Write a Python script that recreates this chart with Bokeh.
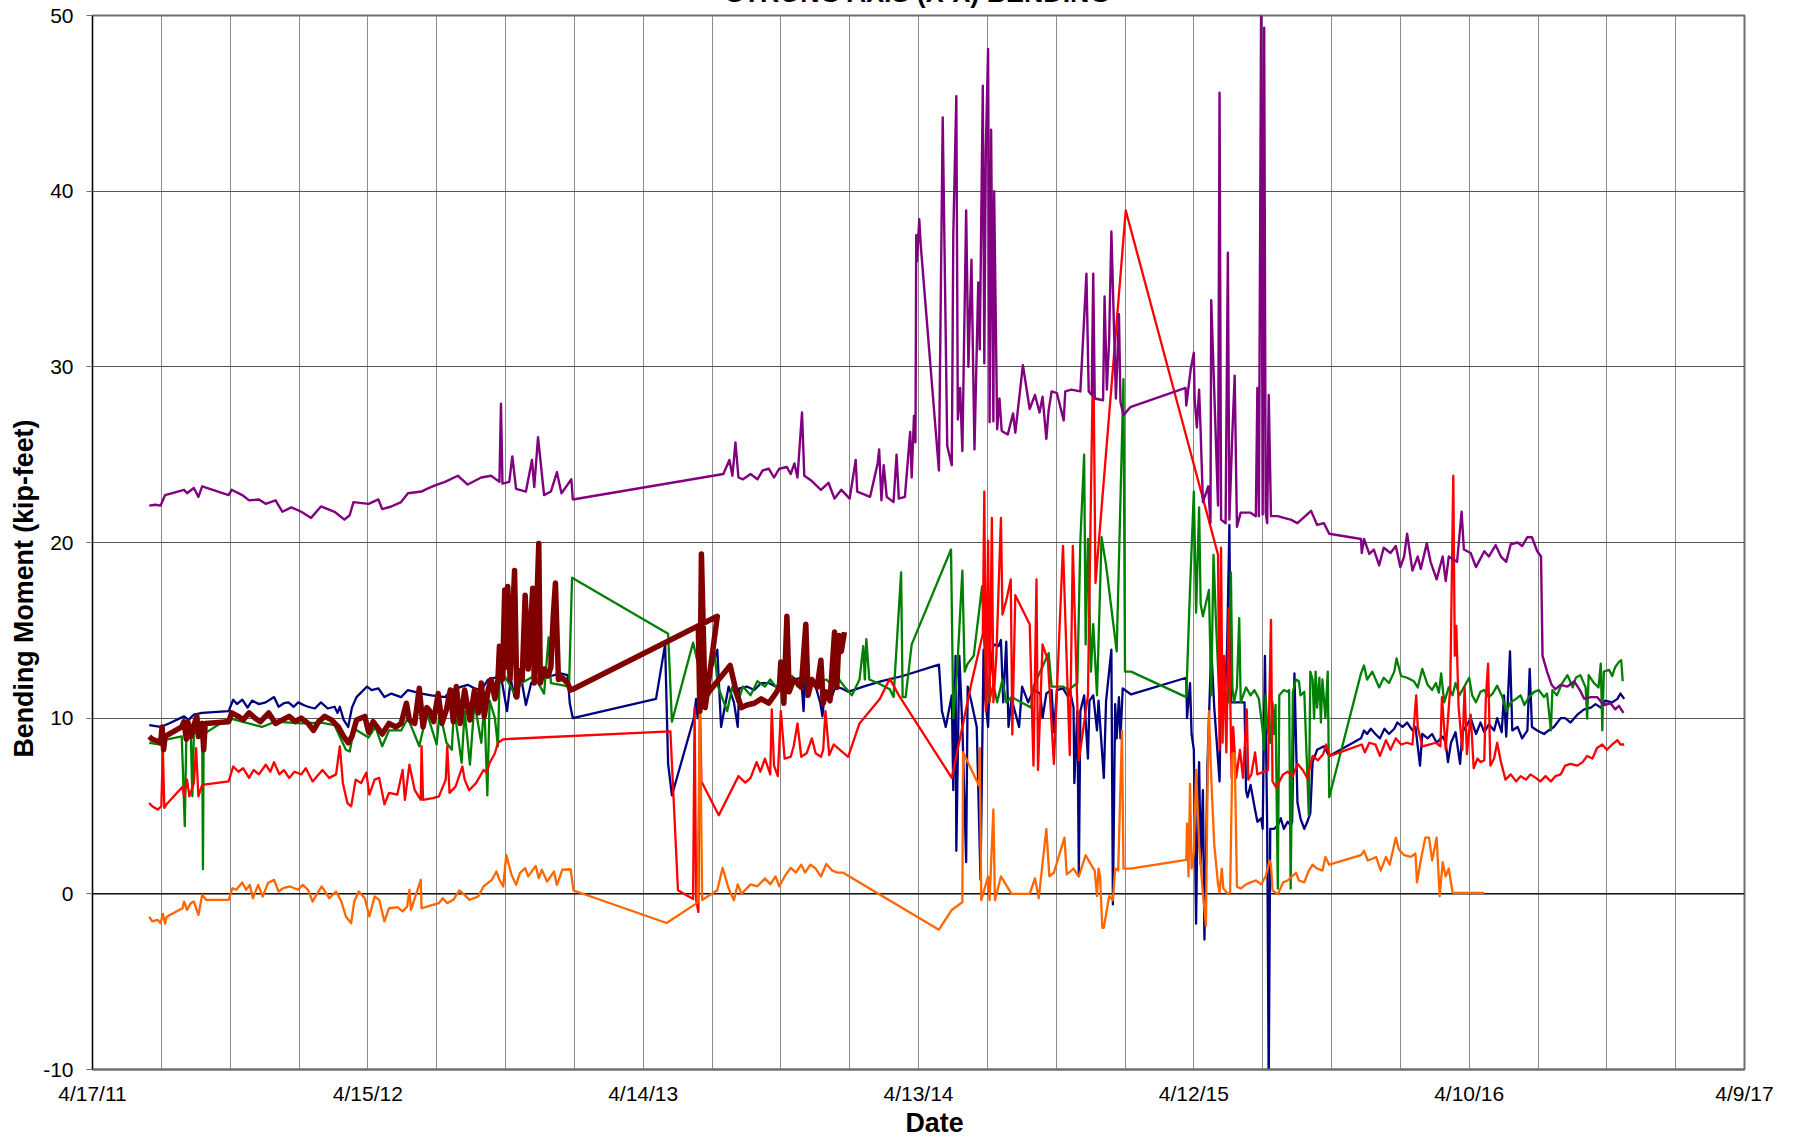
import pandas as pd
from bokeh.plotting import figure
from bokeh.models import Range1d, FixedTicker, CustomJSTickFormatter, Span, Title
from bokeh.embed import file_html
from bokeh.resources import INLINE

TITLE = "STRONG AXIS (X-X) BENDING"
X_LABEL = "Date"
Y_LABEL = "Bending Moment (kip-feet)"
x_start, x_end = "2011-04-17", "2017-04-09"
y_start, y_end = -10, 50
y_ticks = [-10, 0, 10, 20, 30, 40, 50]
x_tick_dates = ["2011-04-17", "2012-04-15", "2013-04-14", "2014-04-13", "2015-04-12", "2016-04-10", "2017-04-09"]
x_tick_labels = ["4/17/11", "4/15/12", "4/14/13", "4/13/14", "4/12/15", "4/10/16", "4/9/17"]
grid_step_days = 91

# ---------------- series data ----------------
purple_dates = [
 "2011-07-01","2011-07-09","2011-07-16","2011-07-22","2011-08-16","2011-08-20","2011-08-29","2011-09-04","2011-09-09","2011-10-14",
 "2011-10-18","2011-11-01","2011-11-10","2011-11-23","2011-12-02","2011-12-15","2011-12-24","2012-01-05","2012-01-18","2012-01-31",
 "2012-02-13","2012-03-02","2012-03-15","2012-03-22","2012-03-27","2012-04-16","2012-04-29","2012-05-04","2012-05-16","2012-05-29",
 "2012-06-07","2012-06-25","2012-07-02","2012-07-13","2012-07-26","2012-08-12","2012-08-25","2012-09-12","2012-09-25","2012-10-06",
 "2012-10-08","2012-10-10","2012-10-19","2012-10-23","2012-10-28","2012-11-10","2012-11-18","2012-11-21","2012-11-26","2012-12-04",
 "2012-12-13","2012-12-21","2012-12-27","2013-01-09","2013-01-11",
 "2013-07-29","2013-08-06","2013-08-10","2013-08-14","2013-08-18","2013-08-24","2013-09-03","2013-09-12","2013-09-19","2013-09-27",
 "2013-10-04","2013-10-11","2013-10-21","2013-10-26","2013-10-31","2013-11-04","2013-11-10","2013-11-13","2013-11-23","2013-12-05",
 "2013-12-15","2013-12-23","2014-01-01","2014-01-12","2014-01-20","2014-01-22","2014-02-08","2014-02-18","2014-02-20","2014-02-23",
 "2014-02-26","2014-03-02","2014-03-11","2014-03-15","2014-03-18","2014-03-26","2014-04-02","2014-04-04","2014-04-07","2014-04-09",
 "2014-04-10","2014-04-11","2014-04-14","2014-04-16","2014-05-10","2014-05-15","2014-05-21","2014-05-27","2014-05-29","2014-06-02",
 "2014-06-04","2014-06-07","2014-06-10","2014-06-15","2014-06-18","2014-06-22","2014-06-26","2014-07-01","2014-07-03","2014-07-07",
 "2014-07-09","2014-07-11","2014-07-14","2014-07-16","2014-07-18","2014-07-21","2014-07-22","2014-07-26","2014-07-29","2014-08-01",
 "2014-08-09","2014-08-16","2014-08-19","2014-08-29","2014-09-07","2014-09-14","2014-09-20","2014-09-24","2014-09-29","2014-10-02",
 "2014-10-06","2014-10-13","2014-10-22","2014-10-24","2014-11-01","2014-11-13","2014-11-19","2014-11-21","2014-11-24","2014-11-28",
 "2014-11-30","2014-12-02","2014-12-13","2014-12-15","2014-12-18","2014-12-21","2014-12-24","2014-12-30","2015-01-03","2015-01-05",
 "2015-01-09","2015-01-18",
 "2015-04-01","2015-04-02","2015-04-08","2015-04-12","2015-04-13","2015-04-16","2015-04-19","2015-04-21","2015-04-24","2015-05-01",
 "2015-05-04","2015-05-05","2015-05-14","2015-05-16","2015-05-18","2015-05-24","2015-05-27","2015-05-29","2015-06-02","2015-06-05",
 "2015-06-08","2015-06-13","2015-06-26","2015-07-03","2015-07-05","2015-07-07","2015-07-10","2015-07-12","2015-07-14","2015-07-16",
 "2015-07-18","2015-07-20","2015-07-23","2015-08-01","2015-08-09","2015-08-18","2015-08-27","2015-09-14","2015-09-22","2015-10-01",
 "2015-10-08","2015-11-19","2015-11-20","2015-11-23","2015-11-30","2015-12-06","2015-12-13","2015-12-19","2015-12-28","2016-01-04",
 "2016-01-10","2016-01-15","2016-01-19","2016-01-26","2016-02-02","2016-02-06","2016-02-14","2016-02-19","2016-02-27","2016-03-06",
 "2016-03-10","2016-03-14","2016-03-25","2016-03-31","2016-04-03","2016-04-12","2016-04-19","2016-04-30","2016-05-06","2016-05-15",
 "2016-05-22","2016-05-29","2016-06-04","2016-06-13","2016-06-19","2016-06-26","2016-07-02","2016-07-09","2016-07-14","2016-07-16",
 "2016-07-22","2016-07-28","2016-08-02","2016-08-09","2016-08-18","2016-08-27","2016-09-04","2016-09-09","2016-09-18","2016-09-26",
 "2016-10-05","2016-10-14","2016-10-20","2016-10-25","2016-10-31"]
purple_vals = [
 22.1,22.15,22.1,22.7,23.0,22.8,23.1,22.6,23.2,22.7,
 23.0,22.7,22.4,22.45,22.2,22.4,21.75,22.0,21.75,21.4,
 22.05,21.75,21.3,21.55,22.3,22.2,22.45,21.9,22.05,22.3,
 22.8,22.9,23.05,23.25,23.45,23.8,23.3,23.7,23.8,23.45,
 27.9,23.35,23.45,24.9,23.05,22.9,24.7,23.15,26.0,22.7,
 22.9,24.0,22.8,23.6,22.45,
 23.9,24.7,23.8,25.7,23.7,23.6,23.9,23.6,24.1,24.2,
 23.7,24.2,24.3,23.9,24.5,23.7,27.4,23.8,23.5,23.0,
 23.4,22.5,23.0,22.5,24.7,22.9,22.6,24.5,25.3,22.4,
 24.4,22.6,22.3,25.0,22.5,22.6,26.3,23.7,27.2,25.7,
 37.5,36.0,38.4,36.9,24.1,44.2,25.5,24.4,37.5,45.4,
 27.0,28.8,25.2,38.9,30.0,36.1,25.3,34.8,31.0,46.0,
 30.2,42.3,48.1,26.85,43.5,26.9,40.0,26.45,28.2,26.35,
 26.15,27.35,26.25,30.1,27.6,28.4,27.4,28.3,25.9,27.5,
 28.6,28.5,26.95,28.6,28.7,28.6,33.6,35.3,28.6,28.4,
 35.3,28.2,28.1,34.0,28.7,31.5,37.7,28.2,33.0,28.0,
 27.25,27.7,
 28.8,27.8,29.9,30.8,28.2,26.55,28.7,26.3,22.3,23.2,
 21.1,33.8,22.1,45.6,21.3,21.1,36.5,21.3,26.3,29.5,
 20.9,21.7,21.7,21.5,28.8,21.5,51.0,21.6,49.3,21.7,
 21.1,28.4,21.5,21.5,21.4,21.3,21.1,21.8,21.0,21.1,
 20.5,20.2,19.4,20.2,19.35,19.6,18.7,19.7,19.4,19.8,
 18.6,19.2,20.5,18.4,19.2,18.5,19.95,18.9,17.9,19.2,
 17.8,19.2,18.9,21.75,19.6,19.4,18.6,19.5,19.2,19.85,
 19.2,18.9,19.9,20.0,19.8,20.3,20.3,19.5,19.2,13.55,
 12.65,11.9,11.65,11.9,11.8,12.1,11.55,11.1,11.2,11.2,
 10.75,10.85,10.5,10.7,10.3]

orange_dates = [
 "2011-07-01","2011-07-05","2011-07-12","2011-07-16","2011-07-19","2011-07-22","2011-07-24","2011-08-14","2011-08-16","2011-08-20",
 "2011-08-25","2011-08-29","2011-09-04","2011-09-09","2011-09-14","2011-10-14","2011-10-19","2011-10-24","2011-11-01","2011-11-06",
 "2011-11-11","2011-11-15","2011-11-22","2011-11-28","2011-12-05","2011-12-13","2011-12-19","2011-12-25","2012-01-03","2012-01-14",
 "2012-01-20","2012-01-27","2012-02-02","2012-02-07","2012-02-14","2012-02-24","2012-03-04","2012-03-11","2012-03-17","2012-03-24",
 "2012-03-28","2012-04-03","2012-04-11","2012-04-17","2012-04-24","2012-04-30","2012-05-07","2012-05-13","2012-05-24","2012-05-31",
 "2012-06-06","2012-06-09","2012-06-11","2012-06-24","2012-06-25","2012-07-10","2012-07-18","2012-07-23","2012-07-29","2012-08-06",
 "2012-08-14","2012-08-21","2012-08-27","2012-09-08","2012-09-15","2012-09-26","2012-10-02","2012-10-06","2012-10-11","2012-10-15",
 "2012-10-22","2012-10-28","2012-11-02","2012-11-09","2012-11-13","2012-11-23","2012-11-27","2012-12-01","2012-12-08","2012-12-17",
 "2012-12-21","2012-12-28","2013-01-08","2013-01-12",
 "2013-05-15","2013-06-25","2013-06-28","2013-07-01","2013-07-21","2013-07-28","2013-08-05","2013-08-12","2013-08-17","2013-08-22",
 "2013-09-03","2013-09-12","2013-09-22","2013-09-29","2013-10-06","2013-10-11","2013-10-18","2013-10-26","2013-11-02","2013-11-09",
 "2013-11-14","2013-11-21","2013-11-28","2013-12-05","2013-12-12","2013-12-20","2013-12-27","2014-01-03","2014-01-10","2014-05-10",
 "2014-05-27","2014-06-10","2014-06-11","2014-07-02","2014-07-03","2014-07-05","2014-07-14","2014-07-16","2014-07-21","2014-07-23",
 "2014-07-31","2014-08-14","2014-09-07","2014-09-14","2014-09-19","2014-09-29","2014-10-03","2014-10-09","2014-10-23","2014-10-26",
 "2014-11-04","2014-11-09","2014-11-11","2014-11-20","2014-11-27","2014-12-02","2014-12-05","2014-12-07","2014-12-09","2014-12-12",
 "2014-12-14","2014-12-21","2014-12-26","2014-12-29","2015-01-02","2015-01-07","2015-01-09","2015-01-18",
 "2015-04-02","2015-04-03","2015-04-05","2015-04-07","2015-04-09","2015-04-12","2015-04-15","2015-04-19","2015-04-23","2015-04-28",
 "2015-04-30","2015-05-02","2015-05-05","2015-05-09","2015-05-14","2015-05-16","2015-05-19","2015-05-21","2015-05-27","2015-05-30",
 "2015-06-02","2015-06-05","2015-06-08","2015-06-13","2015-06-20","2015-06-26","2015-07-03","2015-07-10","2015-07-16","2015-07-21",
 "2015-07-23","2015-07-25","2015-08-01","2015-08-08","2015-08-14","2015-08-25","2015-08-29","2015-09-05","2015-09-11","2015-09-16",
 "2015-09-22","2015-09-29","2015-10-03","2015-10-08","2015-11-19","2015-11-23","2015-11-28","2015-12-04","2015-12-09","2015-12-15",
 "2015-12-22","2015-12-27","2016-01-04","2016-01-08","2016-01-15","2016-01-24","2016-01-30","2016-02-01","2016-02-06","2016-02-12",
 "2016-02-17","2016-02-21","2016-02-27","2016-03-02","2016-03-06","2016-03-10","2016-03-14","2016-03-19","2016-03-20","2016-04-30"]
orange_vals = [
 -1.3,-1.57,-1.48,-1.67,-1.14,-1.7,-1.3,-0.82,-0.44,-0.91,
 -0.53,-0.44,-1.2,-0.06,-0.34,-0.34,0.32,0.23,0.65,0.23,
 0.51,-0.25,0.51,-0.15,0.61,0.8,0.13,0.32,0.42,0.23,
 0.51,0.23,-0.44,-0.06,0.42,-0.25,0.13,-0.44,-1.29,-1.67,
 -0.44,0.13,-0.25,-1.29,-0.15,-0.34,-1.57,-0.82,-0.76,-1.0,
 -0.72,0.23,-0.91,0.8,-0.82,-0.63,-0.53,-0.25,-0.53,-0.34,
 0.19,-0.06,-0.34,-0.15,0.42,0.8,1.27,0.8,0.42,2.22,
 1.08,0.51,1.18,1.46,0.99,1.59,0.89,1.37,0.7,1.27,
 0.51,1.37,1.4,0.19,
 -1.66,-0.5,10.9,-0.35,0.2,1.48,0.3,-0.36,0.54,0.0,
 0.54,0.43,0.88,0.54,0.99,0.43,0.99,1.48,1.21,1.66,
 1.21,1.66,1.44,0.99,1.7,1.32,1.21,1.21,1.03,-2.04,
 -0.92,-0.47,8.06,6.15,8.3,-0.36,0.99,-0.36,4.8,-0.36,
 0.99,0.0,0.0,0.88,-0.25,3.7,1.0,1.2,3.2,1.1,
 1.44,1.1,1.0,2.2,1.66,1.32,-0.13,1.44,0.99,-1.93,
 -1.93,-0.13,-0.36,1.44,1.32,9.3,1.44,1.44,
 1.93,4.0,0.99,6.26,1.44,2.3,7.05,2.8,0.54,-1.82,
 5.9,10.4,6.6,2.8,0.54,0.09,1.44,0.3,0.0,0.1,
 8.0,8.0,0.4,0.3,0.54,0.65,0.76,0.54,0.99,1.9,
 1.66,0.2,-0.02,0.65,0.76,1.2,0.76,0.65,1.32,1.66,
 1.44,1.32,2.1,1.66,2.2,2.45,1.9,2.0,2.1,1.32,
 2.1,1.66,3.2,2.54,2.2,2.1,2.3,0.65,1.9,3.2,
 3.2,1.9,3.2,-0.13,1.8,0.99,1.44,0.1,0.05,0.05]

red_dates = [
 "2011-07-01","2011-07-05","2011-07-12","2011-07-17","2011-07-19","2011-07-21","2011-07-24","2011-08-14","2011-08-16","2011-08-20",
 "2011-08-23","2011-08-29","2011-09-01","2011-09-04","2011-09-09","2011-10-14","2011-10-20","2011-10-27","2011-11-02","2011-11-10",
 "2011-11-16","2011-11-23","2011-12-02","2011-12-08","2011-12-13","2011-12-20","2011-12-26","2012-01-02","2012-01-09","2012-01-18",
 "2012-01-24","2012-02-02","2012-02-15","2012-02-24","2012-03-04","2012-03-09","2012-03-13","2012-03-19","2012-03-24","2012-03-30",
 "2012-04-06","2012-04-13","2012-04-17","2012-04-24","2012-04-30","2012-05-07","2012-05-13","2012-05-24","2012-05-31","2012-06-03",
 "2012-06-09","2012-06-16","2012-06-24","2012-06-25","2012-06-27","2012-07-10","2012-07-18","2012-07-27","2012-07-29","2012-08-01",
 "2012-08-09","2012-08-18","2012-08-21","2012-08-27","2012-09-05","2012-09-15","2012-09-19","2012-09-23","2012-09-30","2012-10-04",
 "2012-10-11",
 "2013-05-20","2013-05-30","2013-06-19","2013-06-21","2013-06-23","2013-06-26","2013-06-28","2013-06-30","2013-07-23","2013-08-18",
 "2013-08-27","2013-09-03","2013-09-11","2013-09-16","2013-09-22","2013-09-29","2013-10-01","2013-10-04","2013-10-09","2013-10-13",
 "2013-10-18","2013-10-26","2013-10-30","2013-11-04","2013-11-09","2013-11-16","2013-11-23","2013-11-28","2013-12-05","2013-12-08",
 "2013-12-11","2013-12-16","2013-12-22","2014-01-10","2014-01-25","2014-02-21","2014-03-06","2014-03-18","2014-05-27","2014-06-22",
 "2014-07-07","2014-07-09","2014-07-11","2014-07-14","2014-07-16","2014-07-19","2014-07-21","2014-07-25","2014-07-27","2014-07-31",
 "2014-08-02","2014-08-07","2014-08-13","2014-08-15","2014-08-19","2014-09-07","2014-09-12","2014-09-16","2014-09-18","2014-09-24",
 "2014-10-01","2014-10-09","2014-10-21","2014-10-30","2014-11-03","2014-11-11","2014-11-23","2014-11-30","2014-12-03","2015-01-12",
 "2015-05-14","2015-05-16","2015-05-18","2015-05-20","2015-05-22","2015-05-25","2015-05-28","2015-06-01","2015-06-03","2015-06-07",
 "2015-06-12","2015-06-16","2015-06-21","2015-06-23","2015-06-27","2015-07-02","2015-07-05","2015-07-13","2015-07-19","2015-07-23",
 "2015-07-25","2015-07-30","2015-08-08","2015-08-14","2015-08-21","2015-08-27","2015-09-03","2015-09-09","2015-09-16","2015-09-23",
 "2015-09-30","2015-10-04","2015-10-09","2015-11-20","2015-11-24","2015-11-30","2015-12-08","2015-12-14","2015-12-22","2015-12-28",
 "2016-01-04","2016-01-11","2016-01-19","2016-01-26","2016-01-31","2016-02-02","2016-02-08","2016-02-17","2016-02-26","2016-03-03",
 "2016-03-05","2016-03-10","2016-03-16","2016-03-20","2016-03-22","2016-03-24","2016-03-27","2016-04-01","2016-04-04","2016-04-07",
 "2016-04-12","2016-04-16","2016-04-21","2016-04-25","2016-04-30","2016-05-02","2016-05-05","2016-05-08","2016-05-13","2016-05-17",
 "2016-05-22","2016-05-28","2016-06-04","2016-06-11","2016-06-17","2016-06-24","2016-06-30","2016-07-07","2016-07-13","2016-07-20",
 "2016-07-27","2016-08-02","2016-08-09","2016-08-15","2016-08-22","2016-08-31","2016-09-07","2016-09-13","2016-09-20","2016-09-26",
 "2016-10-03","2016-10-09","2016-10-16","2016-10-23","2016-10-27","2016-11-01"]
red_vals = [
 5.17,4.98,4.8,4.98,8.2,4.9,5.1,6.1,5.55,6.5,
 5.55,6.3,8.3,5.55,6.2,6.4,7.25,6.95,7.15,6.6,
 7.05,6.8,7.35,6.95,7.5,6.8,7.05,6.6,6.95,6.8,
 7.15,6.4,7.05,6.6,6.8,8.4,6.3,5.17,4.98,6.5,
 6.3,6.9,5.65,6.5,6.6,5.1,5.75,5.65,7.05,5.35,
 7.35,5.9,5.35,8.4,5.35,5.45,5.55,6.5,8.4,5.75,
 6.1,7.25,6.5,5.9,6.3,7.05,6.9,7.45,8.0,8.6,
 8.8,
 9.25,0.2,-0.3,10.6,-0.35,-1.03,11.1,6.4,4.47,6.7,
 6.33,6.6,7.5,6.95,7.7,6.8,10.5,7.3,6.7,10.4,
 7.7,7.8,8.4,9.7,7.8,8.0,8.85,8.0,7.8,8.2,
 10.4,7.9,8.5,7.8,9.7,11.1,12.25,11.3,6.6,12.0,
 14.8,22.9,10.4,20.1,10.9,21.4,10.9,13.6,16.25,21.4,
 15.9,16.7,17.9,9.07,17.0,15.35,7.3,17.9,7.05,14.2,
 13.3,7.4,19.8,7.9,19.8,7.6,11.3,31.3,17.7,38.9,
 19.3,8.2,19.7,8.6,13.55,8.05,16.25,6.6,9.5,6.6,
 8.2,6.6,10.5,6.5,6.8,8.05,6.8,6.95,7.05,15.6,
 6.4,6.05,6.8,6.95,6.7,7.4,7.05,6.6,7.85,7.6,
 7.95,8.5,7.85,8.5,8.05,8.6,8.5,7.85,8.75,8.2,
 8.85,8.5,8.6,8.5,11.3,9.5,8.4,8.5,8.6,8.4,
 11.2,8.2,11.75,23.8,13.55,15.25,10.65,8.2,11.75,7.95,
 10.2,7.15,7.7,7.5,7.6,11.1,13.1,7.3,7.7,8.6,
 7.5,6.5,6.8,6.4,6.7,6.5,6.8,6.6,6.4,6.7,
 6.4,6.7,6.8,7.3,7.4,7.3,7.5,7.85,7.7,8.3,
 8.5,8.2,8.5,8.75,8.5,8.5]

green_dates = [
 "2011-07-01","2011-07-16","2011-07-22","2011-08-13","2011-08-17","2011-08-19","2011-08-25","2011-08-27","2011-08-29","2011-08-31",
 "2011-09-09","2011-09-10","2011-09-11","2011-09-13","2011-10-14","2011-10-23","2011-11-27","2011-12-15","2012-01-18","2012-02-13",
 "2012-03-02","2012-03-17","2012-03-22","2012-03-28","2012-04-16","2012-04-25","2012-05-04","2012-05-13","2012-05-29","2012-06-07",
 "2012-06-22","2012-07-02","2012-07-15","2012-07-19","2012-07-28","2012-08-04","2012-08-07","2012-08-17","2012-08-21","2012-08-28",
 "2012-09-03","2012-09-12","2012-09-16","2012-09-20","2012-09-23","2012-09-30","2012-10-04","2012-10-06","2012-10-13","2012-10-26",
 "2012-11-04","2012-11-21","2012-12-04","2012-12-10","2012-12-13","2012-12-26","2013-01-06","2013-01-10",
 "2013-05-17","2013-05-22","2013-06-19","2013-07-05","2013-07-17","2013-07-22","2013-08-03","2013-08-10","2013-08-17","2013-08-24",
 "2013-09-03","2013-09-12","2013-09-22","2013-09-29","2013-10-09","2013-10-16","2013-10-28","2013-11-04","2013-11-18","2013-11-28",
 "2013-12-12","2013-12-22","2013-12-27","2013-12-29","2014-01-05","2014-01-15","2014-01-25","2014-01-30","2014-02-01","2014-02-03",
 "2014-02-07","2014-02-18","2014-03-06","2014-03-11","2014-03-21","2014-03-23","2014-03-27","2014-04-04","2014-05-26","2014-05-29",
 "2014-06-03","2014-06-10","2014-06-13","2014-06-17","2014-06-25","2014-07-06","2014-07-09","2014-07-15","2014-07-21","2014-07-26",
 "2014-08-02","2014-08-07","2014-08-14","2014-09-09","2014-09-12","2014-10-02","2014-10-06","2014-10-21","2014-10-28","2014-11-09",
 "2014-11-13","2014-11-18","2014-11-20","2014-11-23","2014-11-27","2014-11-30","2014-12-05","2014-12-11","2014-12-17","2014-12-31",
 "2015-01-09","2015-01-11","2015-01-19",
 "2015-04-02","2015-04-07","2015-04-12","2015-04-15","2015-04-19","2015-04-21","2015-04-24","2015-05-02","2015-05-05","2015-05-08",
 "2015-05-11","2015-05-16","2015-05-18","2015-05-22","2015-05-27","2015-05-31","2015-06-02","2015-06-04","2015-06-08","2015-06-11",
 "2015-06-13","2015-06-20","2015-06-26","2015-07-01","2015-07-07","2015-07-12","2015-07-14","2015-07-16","2015-07-18","2015-07-22",
 "2015-07-25","2015-07-27","2015-07-29","2015-08-01","2015-08-03","2015-08-09","2015-08-14","2015-08-16","2015-08-18","2015-08-21",
 "2015-08-25","2015-08-29","2015-08-31","2015-09-05","2015-09-11","2015-09-13","2015-09-16","2015-09-18","2015-09-20","2015-09-22",
 "2015-09-25","2015-09-27","2015-09-29","2015-10-01","2015-10-03","2015-10-06","2015-10-08","2015-11-19","2015-11-23","2015-11-27",
 "2015-12-04","2015-12-13","2015-12-19","2015-12-26","2016-01-02","2016-01-05","2016-01-11","2016-01-19","2016-01-28","2016-02-02",
 "2016-02-08","2016-02-15","2016-02-21","2016-02-26","2016-03-01","2016-03-04","2016-03-08","2016-03-14","2016-03-19","2016-03-23",
 "2016-03-28","2016-04-03","2016-04-10","2016-04-14","2016-04-19","2016-04-25","2016-04-30","2016-05-06","2016-05-11","2016-05-17",
 "2016-05-24","2016-05-29","2016-06-04","2016-06-11","2016-06-17","2016-06-22","2016-06-28","2016-07-05","2016-07-11","2016-07-18",
 "2016-07-22","2016-07-27","2016-07-29","2016-08-04","2016-08-11","2016-08-18","2016-08-25","2016-08-29","2016-09-04","2016-09-11",
 "2016-09-13","2016-09-15","2016-09-22","2016-09-28","2016-10-01","2016-10-03","2016-10-05","2016-10-12","2016-10-16","2016-10-20",
 "2016-10-25","2016-10-28","2016-10-30"]
green_vals = [
 8.6,8.5,8.77,8.96,3.85,8.9,9.0,5.55,9.1,9.15,
 9.2,1.4,9.2,9.15,10.0,9.9,9.5,9.8,9.7,9.75,
 9.6,8.2,8.1,9.4,8.9,9.5,8.4,9.3,9.3,10.0,
 8.4,10.3,8.5,10.4,8.6,8.2,10.6,7.45,10.4,7.35,
 10.9,8.6,10.8,5.6,11.0,10.0,8.4,12.0,12.4,11.4,
 12.0,12.4,11.4,14.6,12.0,11.9,11.8,18.0,
 14.8,9.8,14.3,11.3,13.8,11.8,10.4,11.8,10.9,11.8,
 11.3,12.1,11.8,12.2,11.65,12.2,12.4,11.8,12.2,12.0,
 12.2,11.8,13.1,12.2,11.8,11.3,12.2,14.1,12.2,14.5,
 12.2,12.0,11.65,11.2,18.3,11.2,11.2,14.2,19.6,10.0,
 12.65,18.4,12.65,13.1,13.55,17.5,14.2,10.9,11.9,10.9,
 12.2,10.9,11.2,10.6,11.8,13.7,11.8,11.8,11.6,12.0,
 20.1,25.0,14.2,20.2,12.65,15.35,11.3,20.3,18.7,13.8,
 29.3,12.65,12.65,
 11.2,17.4,22.9,16.0,22.0,16.5,15.8,17.3,11.3,19.3,
 15.8,10.9,11.75,10.4,10.9,18.3,11.75,10.9,11.75,15.7,
 10.9,11.75,11.3,11.6,11.1,9.3,8.2,11.3,9.5,8.6,
 10.9,9.1,10.75,0.3,11.3,11.6,11.5,11.6,0.3,11.5,
 12.2,12.1,11.3,11.5,4.47,12.65,12.2,9.97,12.65,10.6,
 12.3,9.75,12.2,11.1,10.0,12.65,5.5,12.55,13.0,12.2,
 12.65,11.75,12.3,12.0,12.65,13.4,12.4,12.3,12.1,11.75,
 12.8,11.9,11.6,12.0,11.45,12.55,10.9,11.75,11.3,12.0,
 11.3,11.75,12.3,11.3,10.9,11.5,11.6,11.2,11.4,11.85,
 11.2,10.4,10.9,11.1,11.3,10.75,11.2,11.5,11.6,11.2,
 11.4,9.3,11.6,11.3,12.0,12.45,11.75,12.3,12.45,11.75,
 9.97,12.45,12.0,11.75,13.1,9.3,12.65,12.75,12.4,12.9,
 13.2,13.3,12.1]

blue_dates = [
 "2011-07-01","2011-07-16","2011-07-27","2011-08-16","2011-08-22","2011-08-29","2011-09-09","2011-10-14","2011-10-20","2011-10-25",
 "2011-11-01","2011-11-08","2011-11-14","2011-11-23","2011-12-02","2011-12-13","2011-12-19","2011-12-26","2012-01-01","2012-01-08",
 "2012-01-14","2012-01-21","2012-01-27","2012-02-05","2012-02-13","2012-02-22","2012-03-02","2012-03-06","2012-03-09","2012-03-14",
 "2012-03-20","2012-03-25","2012-03-31","2012-04-14","2012-04-20","2012-04-29","2012-05-07","2012-05-16","2012-05-29","2012-06-07",
 "2012-06-25","2012-07-08","2012-07-26","2012-08-04","2012-08-17","2012-08-25","2012-09-03","2012-09-12","2012-09-21","2012-10-08",
 "2012-10-16","2012-10-21","2012-10-26","2012-11-04","2012-11-10","2012-11-17","2012-11-26","2012-12-13","2012-12-26","2013-01-04",
 "2013-01-07","2013-01-11",
 "2013-05-01","2013-05-13","2013-05-17","2013-05-22","2013-06-20","2013-06-23","2013-06-25","2013-06-30","2013-07-21","2013-07-26",
 "2013-08-05","2013-08-12","2013-08-17","2013-08-19","2013-08-29","2013-09-08","2013-09-17","2013-09-27","2013-10-06","2013-10-16",
 "2013-10-30","2013-11-09","2013-11-12","2013-11-14","2013-11-28","2013-12-04","2013-12-07","2013-12-10","2013-12-17","2013-12-24",
 "2014-01-01","2014-01-10","2014-01-30","2014-02-22","2014-03-23","2014-05-10","2014-05-14","2014-05-19","2014-05-27","2014-05-29",
 "2014-06-01","2014-06-02","2014-06-06","2014-06-10","2014-06-15","2014-06-17","2014-06-22","2014-06-29","2014-07-04","2014-07-08",
 "2014-07-10","2014-07-14","2014-07-16","2014-07-21","2014-07-28","2014-07-31","2014-08-03","2014-08-07","2014-08-10","2014-08-14",
 "2014-08-24","2014-08-28","2014-09-05","2014-09-12","2014-09-21","2014-09-24","2014-09-29","2014-10-06","2014-10-09","2014-10-13",
 "2014-10-21","2014-10-28","2014-10-30","2014-11-04","2014-11-05","2014-11-09","2014-11-11","2014-11-13","2014-11-18","2014-11-23",
 "2014-11-25","2014-11-30","2014-12-05","2014-12-07","2014-12-14","2014-12-17","2014-12-24","2014-12-26","2014-12-29","2014-12-31",
 "2015-01-03","2015-01-05","2015-01-08","2015-01-19",
 "2015-04-02","2015-04-03","2015-04-07","2015-04-09","2015-04-12","2015-04-15","2015-04-17","2015-04-19","2015-04-21","2015-04-24",
 "2015-04-26","2015-04-28","2015-04-30","2015-05-05","2015-05-09","2015-05-16","2015-05-18","2015-05-22","2015-05-26","2015-05-29",
 "2015-05-31","2015-06-11","2015-06-18","2015-06-20","2015-06-22","2015-06-26","2015-07-01","2015-07-05","2015-07-10","2015-07-12",
 "2015-07-15","2015-07-18","2015-07-20","2015-07-22","2015-07-27","2015-08-01","2015-08-05","2015-08-09","2015-08-14","2015-08-18",
 "2015-08-20","2015-08-23","2015-08-27","2015-08-31","2015-09-05","2015-09-09","2015-09-13","2015-09-16","2015-09-22","2015-10-01",
 "2015-10-08","2015-11-19","2015-11-23","2015-11-27","2015-12-02","2015-12-08","2015-12-14","2015-12-20","2015-12-26","2016-01-02",
 "2016-01-06","2016-01-13","2016-01-19","2016-01-26","2016-01-30","2016-02-05","2016-02-08","2016-02-15","2016-02-21","2016-02-27",
 "2016-03-06","2016-03-10","2016-03-13","2016-03-17","2016-03-23","2016-03-29","2016-04-01","2016-04-07","2016-04-12","2016-04-19",
 "2016-04-25","2016-04-30","2016-05-06","2016-05-13","2016-05-17","2016-05-23","2016-05-26","2016-05-29","2016-06-03","2016-06-06",
 "2016-06-13","2016-06-19","2016-06-26","2016-06-29","2016-07-02","2016-07-09","2016-07-18","2016-07-24","2016-07-31","2016-08-09",
 "2016-08-15","2016-08-22","2016-08-31","2016-09-09","2016-09-18","2016-09-24","2016-10-01","2016-10-07","2016-10-16","2016-10-23",
 "2016-10-27","2016-11-01"]
blue_vals = [
 9.6,9.5,9.7,10.1,9.9,10.2,10.3,10.4,11.05,10.8,
 11.05,10.6,11.0,10.8,10.9,11.2,10.65,10.85,10.9,10.65,
 10.9,10.75,10.65,10.55,10.9,10.55,10.65,10.3,10.65,9.9,
 9.5,10.6,11.2,11.8,11.6,11.7,11.2,11.4,11.2,11.6,
 11.4,11.3,11.2,11.6,11.8,11.9,11.7,11.6,12.2,12.4,
 10.4,12.2,11.2,12.2,10.75,12.0,12.2,12.4,12.55,12.45,
 10.85,10.0,
 11.1,14.2,7.4,5.6,10.0,11.1,10.0,10.9,13.9,9.5,
 11.8,10.9,9.5,11.7,11.8,11.6,12.0,12.0,11.8,12.0,
 12.2,12.3,10.4,12.2,11.8,10.9,10.1,11.4,10.9,11.8,
 11.7,11.5,11.8,12.1,12.4,13.05,10.4,9.5,11.3,5.9,
 13.55,2.45,13.55,9.5,1.8,11.8,10.9,9.5,0.8,13.9,
 11.2,9.5,12.2,14.2,14.1,14.45,10.9,14.35,9.5,11.1,
 9.5,11.8,10.9,11.6,11.4,10.0,11.4,11.6,9.2,11.6,
 11.7,11.2,11.6,10.6,6.3,10.4,1.0,10.4,11.3,7.7,
 11.0,11.3,9.3,11.0,6.6,11.0,13.9,-0.6,10.8,8.85,
 11.2,8.85,11.7,11.35,
 12.3,10.0,12.0,9.1,8.2,-1.7,5.0,7.5,1.7,5.9,
 -2.6,1.7,7.3,14.0,10.6,6.4,11.75,10.4,14.0,21.0,
 10.9,10.9,10.9,5.9,5.5,6.2,5.0,4.1,4.3,3.7,
 13.55,3.7,-11.0,3.7,3.7,3.9,4.3,3.7,4.1,3.9,
 4.1,12.55,5.2,4.3,3.7,4.1,4.6,7.5,8.2,8.4,
 7.85,8.85,9.3,9.1,9.4,9.1,8.85,9.4,9.1,9.4,
 9.75,9.5,9.75,9.3,9.5,7.3,9.1,8.85,9.1,8.6,
 8.95,8.6,7.5,8.6,9.2,7.4,9.2,9.6,10.0,9.1,
 9.75,9.2,9.65,9.3,10.0,9.2,11.3,8.95,13.8,9.3,
 9.5,8.85,9.3,12.8,9.5,9.3,9.1,9.3,9.5,10.0,
 10.0,9.75,10.2,10.5,10.6,10.8,10.6,11.0,10.9,11.1,
 11.4,11.1]

maroon_dates = [
 "2011-07-01","2011-07-05","2011-07-12","2011-07-16","2011-07-18","2011-07-20","2011-07-22","2011-08-13","2011-08-16","2011-08-19",
 "2011-08-21","2011-08-25","2011-08-29","2011-09-02","2011-09-04","2011-09-09","2011-09-11","2011-09-13","2011-10-14","2011-10-18",
 "2011-10-27","2011-11-02","2011-11-10","2011-11-18","2011-11-25","2011-12-06","2011-12-15","2011-12-24","2012-01-02","2012-01-10",
 "2012-01-18","2012-01-27","2012-02-03","2012-02-10","2012-02-18","2012-02-27","2012-03-07","2012-03-14","2012-03-20","2012-03-25",
 "2012-03-31","2012-04-11","2012-04-16","2012-04-22","2012-05-04","2012-05-13","2012-05-22","2012-05-29","2012-06-05","2012-06-09",
 "2012-06-16","2012-06-22","2012-06-27","2012-07-02","2012-07-06","2012-07-11","2012-07-17","2012-07-22","2012-07-28","2012-08-02",
 "2012-08-06","2012-08-10","2012-08-15","2012-08-21","2012-08-28","2012-09-03","2012-09-08","2012-09-12","2012-09-16","2012-09-21",
 "2012-09-25","2012-09-30","2012-10-04","2012-10-06","2012-10-08","2012-10-10","2012-10-13","2012-10-16","2012-10-17","2012-10-20",
 "2012-10-26","2012-10-29","2012-11-01","2012-11-05","2012-11-09","2012-11-13","2012-11-19","2012-11-21","2012-11-27","2012-11-29",
 "2012-12-04","2012-12-09","2012-12-13","2012-12-16","2012-12-19","2012-12-23","2012-12-28","2013-01-04","2013-01-08","2013-01-11",
 "2013-07-21","2013-07-05","2013-06-30","2013-06-28","2013-06-26","2013-06-29","2013-07-10","2013-08-07","2013-08-15","2013-08-22",
 "2013-08-29","2013-09-08","2013-09-17","2013-09-27","2013-10-06","2013-10-11","2013-10-13","2013-10-17","2013-10-21","2013-10-24",
 "2013-10-30","2013-11-04","2013-11-09","2013-11-15","2013-11-18","2013-11-23","2013-11-30","2013-12-05","2013-12-08","2013-12-12",
 "2013-12-17","2013-12-23","2013-12-26","2013-12-29","2014-01-01","2014-01-05"]
maroon_vals = [
 8.96,8.8,8.7,8.6,9.5,8.2,8.96,9.5,9.8,8.8,
 9.8,8.96,9.6,10.1,8.96,9.7,8.2,9.7,9.8,10.3,
 10.1,9.9,10.3,10.0,9.8,10.3,9.7,9.9,10.1,9.8,
 10.0,9.7,9.3,9.8,10.1,9.9,9.5,8.96,8.6,8.96,
 9.9,10.1,9.2,9.8,9.1,9.7,9.5,9.7,10.85,9.9,
 9.7,11.7,9.5,10.6,10.4,9.8,11.4,9.7,10.5,11.6,
 9.8,11.8,9.7,11.6,9.9,11.6,10.3,12.0,10.1,11.6,
 12.2,11.1,12.2,14.1,12.9,12.2,17.3,12.9,17.5,12.2,
 18.4,11.2,12.7,12.2,17.0,12.8,17.4,12.0,19.95,12.0,
 12.8,12.4,12.9,15.7,17.7,12.2,12.3,12.0,11.6,11.65,
 15.8,10.6,19.35,10.4,15.0,10.6,11.5,13.0,11.5,10.6,
 10.75,10.85,11.1,10.85,11.4,11.75,13.2,10.85,15.8,11.5,
 12.2,12.0,11.75,15.35,11.3,12.2,11.75,13.3,10.85,11.5,
 11.0,14.9,11.75,14.7,13.8,14.9]

series = [
    (blue_dates, blue_vals, "#000080", 2.3),
    (green_dates, green_vals, "#008000", 2.3),
    (red_dates, red_vals, "#FF0000", 2.3),
    (orange_dates, orange_vals, "#FF6600", 2.3),
    (purple_dates, purple_vals, "#800080", 2.4),
    (maroon_dates, maroon_vals, "#800000", 5.5),
]

def ms(d):
    return pd.Timestamp(d).value / 1e6

FONT = "Liberation Sans"
TICK_SIZE = "21px"
TITLE_SIZE = "26.8px"

p = figure(width=1784, height=1178, x_axis_type="datetime",
           x_range=Range1d(ms(x_start), ms(x_end)), y_range=Range1d(y_start, y_end),
           output_backend="svg", toolbar_location=None, title=TITLE,
           min_border_left=92, min_border_right=40, min_border_top=50, min_border_bottom=74,
           margin=(-35, 0, -22, 0), background_fill_color="white", border_fill_color="white")

p.title.align = "center"
p.title.text_font = FONT
p.title.text_font_size = TITLE_SIZE
p.title.text_font_style = "bold"
p.title.text_color = "black"
p.title.standoff = 16

p.outline_line_color = "#6e6e6e"
p.outline_line_width = 2

grid_ms = [v.value / 1e6 for v in pd.date_range(x_start, x_end, freq=f"{grid_step_days}D")]
p.xgrid.ticker = FixedTicker(ticks=grid_ms)
p.xgrid.grid_line_color = "#8a8a8a"
p.xgrid.grid_line_width = 1
p.ygrid.ticker = FixedTicker(ticks=y_ticks)
p.ygrid.grid_line_color = "#555555"
p.ygrid.grid_line_width = 1

zero = Span(location=0, dimension="width", line_color="black", line_width=1.3, level="underlay")
p.add_layout(zero)

xa = p.xaxis[0]
tick_ms = [ms(d) for d in x_tick_dates]
xa.ticker = FixedTicker(ticks=tick_ms)
xa.formatter = CustomJSTickFormatter(args=dict(tick_vals=tick_ms, tick_text=x_tick_labels), code="""
const i = tick_vals.findIndex(t => Math.abs(t - tick) < 1000);
return i >= 0 ? tick_text[i] : '';
""")
xa.axis_line_color = "#6e6e6e"
xa.axis_line_width = 2
xa.major_tick_out = 0
xa.major_tick_in = 0
xa.minor_tick_line_color = None
xa.major_label_text_font = FONT
xa.major_label_text_font_size = TICK_SIZE
xa.major_label_text_color = "black"
xa.major_label_standoff = 12

ya = p.yaxis[0]
ya.ticker = FixedTicker(ticks=y_ticks)
ya.formatter = CustomJSTickFormatter(code="return tick.toString();")
ya.axis_line_color = "black"
ya.axis_line_width = 1
ya.major_tick_out = 6
ya.major_tick_in = 0
ya.major_tick_line_color = "#6e6e6e"
ya.minor_tick_line_color = None
ya.major_label_text_font = FONT
ya.major_label_text_font_size = TICK_SIZE
ya.major_label_text_color = "black"
ya.major_label_standoff = 13

# axis titles as side titles (the reference places them slightly off the frame centre)
y_title = Title(text=Y_LABEL, align="left", offset=312, standoff=3, vertical_align="bottom",
                text_font=FONT, text_font_size=TITLE_SIZE, text_font_style="bold", text_color="black")
x_title = Title(text=X_LABEL, align="left", offset=813, standoff=0, vertical_align="top",
                text_font=FONT, text_font_size=TITLE_SIZE, text_font_style="bold", text_color="black")
p.add_layout(y_title, "left")
p.add_layout(x_title, "below")

for dates, vals, color, width in series:
    p.line(pd.to_datetime(dates), vals, line_color=color, line_width=width, line_join="round")

open("out.html", "w").write(file_html(p, INLINE, title="Strong axis bending"))
